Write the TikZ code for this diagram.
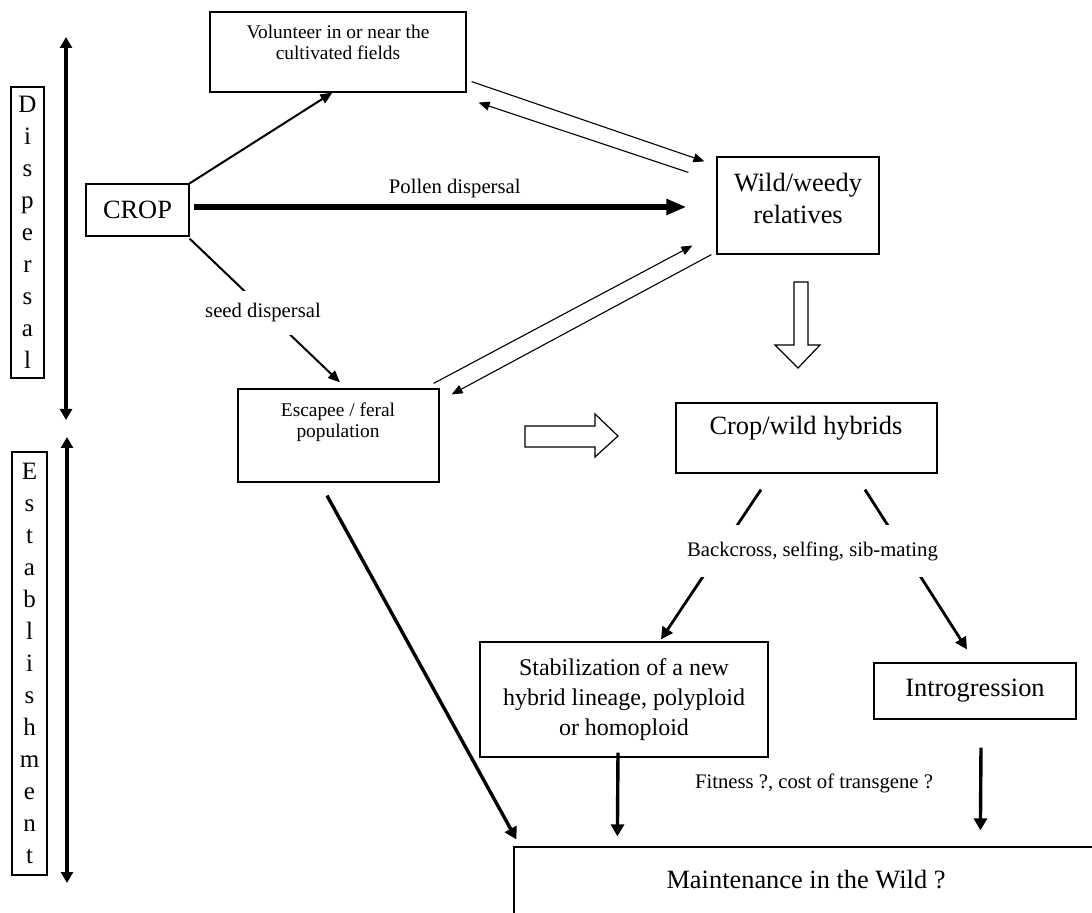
\documentclass[tikz,border=0pt]{standalone}
\usepackage{fontspec}
\setmainfont{Liberation Serif}
\usetikzlibrary{arrows.meta,calc}
\newcommand\volfnt{\fontsize{9.7pt}{10.5pt}\selectfont}
\newcommand\smallfnt{\fontsize{10.35pt}{12pt}\selectfont}
\newcommand\largefnt{\fontsize{13.2pt}{16pt}\selectfont}
\newcommand\stabfnt{\fontsize{12pt}{15pt}\selectfont}
\newcommand\vertfnt{\fontsize{12.5pt}{16pt}\selectfont}
\begin{document}
\begin{tikzpicture}[x=0.5pt,y=-0.5pt,
  box/.style={draw, line width=0.6pt, inner sep=0pt, rectangle},
  txt/.style={inner sep=0pt, align=center},
  thinarr/.style={line width=0.55pt, -{Triangle[length=5.5pt,width=4.5pt]}},
  medarr/.style={line width=1pt, -{Triangle[length=6pt,width=5pt]}},
  thickarr/.style={line width=1.7pt, -{Triangle[length=6pt,width=6.5pt]}},
  bcarr/.style={line width=1.4pt, -{Triangle[length=6pt,width=6pt]}},
  pollenarr/.style={line width=2.7pt, -{Triangle[length=10pt,width=7.5pt]}},
  axisarr/.style={line width=2pt, {Triangle[length=5.5pt,width=6pt]}-{Triangle[length=5.5pt,width=6pt]}},
  hollow/.style={draw, line width=0.6pt, fill=white}
]
\useasboundingbox (0,0) rectangle (1092,913);
\clip (0,0) rectangle (1092,913);

% side boxes
\node[box, font=\vertfnt, align=center, minimum width=16.5pt, minimum height=145.5pt] (disp) at (27.5,232.5) {D\\i\\s\\p\\e\\r\\s\\a\\l};
\node[box, font=\vertfnt, align=center, minimum width=17.5pt, minimum height=211.5pt] (est) at (29.5,663.5) {E\\s\\t\\a\\b\\l\\i\\s\\h\\m\\e\\n\\t};
\coordinate (d1) at (66,37);
\coordinate (d2) at (66,420);
\coordinate (e1) at (67,437);
\coordinate (e2) at (67,883);
\draw[axisarr] (d1) -- (d2);
\draw[axisarr] (e1) -- (e2);

% boxes
\node[box, minimum width=128pt, minimum height=40pt] (vol) at (338,52) {};
\node[txt, font=\volfnt] (vol-t) at (338,42.5) {Volunteer in or near the\\cultivated fields};
\node[box, font=\largefnt, minimum width=51.5pt, minimum height=26pt] (crop) at (137.5,210) {CROP};
\node[box, minimum width=81pt, minimum height=48.5pt] (wild) at (798,205.5) {};
\node[txt, font=\largefnt] (wild-t) at (798,198) {Wild/weedy\\relatives};
\node[box, minimum width=100.5pt, minimum height=46.5pt] (esc) at (338.5,435.5) {};
\node[txt, font=\volfnt] (esc-t) at (338,422.5) {Escapee / feral\\population};
\node[box, minimum width=130.5pt, minimum height=35pt] (cw) at (806.5,438) {};
\node[txt, font=\largefnt] (cw-t) at (806,428) {Crop/wild hybrids};
\node[box, font=\stabfnt, align=center, minimum width=144pt, minimum height=57.5pt] (stab) at (624,699.5) {Stabilization of a new\\hybrid lineage, polyploid\\or homoploid};
\node[box, font=\largefnt, minimum width=101pt, minimum height=28pt] (intro) at (975,691) {Introgression};
\node[box, minimum width=300pt, minimum height=50pt] (maint) at (814,897) {};
\node[txt, font=\largefnt] (maint-t) at (806,880) {Maintenance in the Wild ?};

% connectors
\draw[medarr] (crop.north east) -- ($(vol.south west)+(123,0)$);
\draw[thinarr] ($(vol.south east)+(5,-11)$) -- ($(wild.north west)+(-12,5)$);
\draw[thinarr] ($(wild.north west)+(-28,16)$) -- ($(vol.south east)+(12,10)$);
\draw[thinarr] ($(esc.north east)+(-6,-5)$) -- ($(wild.south west)+(-24,-9)$);
\draw[thinarr] ($(wild.south west)+(-5,0)$) -- ($(esc.north east)+(12,6)$);
\draw[pollenarr] ($(crop.east)+(4,-3)$) -- node[pos=0.53, yshift=9pt, font=\smallfnt] (pol-t) {Pollen dispersal} ($(wild.west)+(-30,1.5)$);
\draw[medarr] ($(crop.south east)+(0,2)$) -- ($(esc.north)+(1.5,-6)$);
\node[fill=white, font=\smallfnt, inner xsep=1pt, inner ysep=6.5pt] (seed-t) at (263,313) {seed dispersal};

\draw[bcarr] ($(cw.south)+(-45.5,16)$) -- ($(stab.north)+(37,-2)$);
\draw[bcarr] ($(cw.south)+(58.5,16)$) -- ($(intro.north)+(-8,-13)$);
\node[fill=white, font=\smallfnt, inner xsep=1pt, inner ysep=8.3pt] (bc-t) at (812.5,551) {Backcross, selfing, sib-mating};

\draw[thickarr] ($(esc.south)+(-11.5,13)$) -- ($(maint.north west)+(3,-7)$);
\draw[thickarr] ($(stab.south)+(-6,-5)$) -- ($(maint.north west)+(104,-10)$);
\draw[thickarr] ($(intro.south)+(6,28)$) -- ($(maint.north west)+(467,-16)$);
\node[font=\smallfnt] (fit-t) at (814,783) {Fitness ?, cost of transgene ?};

% hollow block arrows
\draw[hollow] (525,426) -- (595,426) -- (595,414) -- (618,436) -- (595,457) -- (595,447) -- (525,447) -- cycle;
\draw[hollow] (794,282) -- (808,282) -- (808,345) -- (820,345) -- (798,368) -- (775,345) -- (794,345) -- cycle;
\end{tikzpicture}
\end{document}
